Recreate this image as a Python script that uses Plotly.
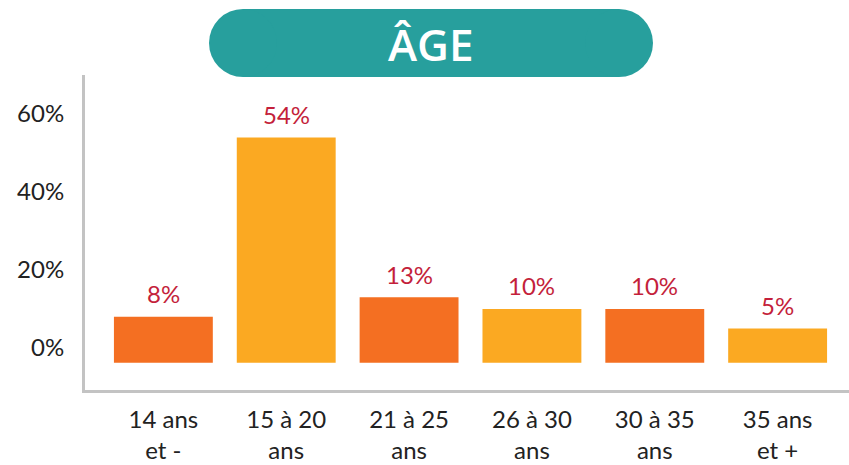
import plotly.graph_objects as go

categories = ["14 ans<br>et -", "15 à 20<br>ans", "21 à 25<br>ans", "26 à 30<br>ans", "30 à 35<br>ans", "35 ans<br>et +"]
values = [8, 54, 13, 10, 10, 5]
colors = ["#F46F22", "#FBA922", "#F46F22", "#FBA922", "#F46F22", "#FBA922"]
tick_vals = [0, 20, 40, 60]
tick_text = ["0%", "20%", "40%", "60%"]
title_text = "ÂGE"

BASE = -3.8  # bars start slightly below the 0% line, as in the reference
lengths = [v - BASE for v in values]

W, H = 849, 465
ML, MR, MT, MB = 85, 0, 75, 75
plot_w = W - ML - MR
plot_h = H - MT - MB

def px_x(p):
    return (p - ML) / plot_w

def px_y(p):
    return (H - MB - p) / plot_h

fig = go.Figure()
fig.add_trace(go.Bar(
    x=list(range(len(categories))),
    y=lengths,
    base=BASE,
    width=0.805,
    marker=dict(color=colors, line=dict(width=0)),
    customdata=values,
    hovertemplate="%{customdata}%<extra></extra>",
))

for i, v in enumerate(values):
    fig.add_annotation(x=i, y=v, xref="x", yref="y", text=f"{v}%", showarrow=False,
                       yanchor="middle", yshift=23,
                       font=dict(family="Lato", size=24, color="#C41F3B"))

# pill behind title
teal = "#279F9D"
y0p, y1p = px_y(77), px_y(9)
fig.add_shape(type="rect", xref="paper", yref="paper", x0=px_x(243), x1=px_x(619),
              y0=y0p, y1=y1p, fillcolor=teal, line=dict(width=0), layer="below")
fig.add_shape(type="circle", xref="paper", yref="paper", x0=px_x(209), x1=px_x(277),
              y0=y0p, y1=y1p, fillcolor=teal, line=dict(width=0), layer="below")
fig.add_shape(type="circle", xref="paper", yref="paper", x0=px_x(585), x1=px_x(653),
              y0=y0p, y1=y1p, fillcolor=teal, line=dict(width=0), layer="below")
fig.add_annotation(text=title_text, xref="paper", yref="paper", x=px_x(431), y=px_y(44),
                   xanchor="center", yanchor="middle", showarrow=False,
                   font=dict(family="Open Sans", size=44, color="white", weight=600))

fig.update_layout(
    width=W, height=H,
    margin=dict(l=ML, r=MR, t=MT, b=MB),
    plot_bgcolor="white", paper_bgcolor="white",
    showlegend=False,
    xaxis=dict(
        range=[-0.638, 5.581],
        tickvals=list(range(len(categories))),
        ticktext=categories,
        tickfont=dict(family="Lato", size=24, color="#222222"),
        showgrid=False, zeroline=False,
        showline=True, linecolor="#C3C3C3", linewidth=3,
        ticks="outside", ticklen=6, tickcolor="rgba(0,0,0,0)",
        fixedrange=True, automargin=False,
    ),
    yaxis=dict(
        range=[-10.8, 70],
        tickvals=tick_vals,
        ticktext=tick_text,
        tickfont=dict(family="Lato", size=24, color="#222222"),
        showgrid=False, zeroline=False,
        showline=True, linecolor="#C3C3C3", linewidth=3,
        ticks="outside", ticklen=13, tickcolor="rgba(0,0,0,0)",
        fixedrange=True, automargin=False,
    ),
)

fig.write_html("out.html", config={"displayModeBar": False},
               post_script="document.body.style.margin='0';")
